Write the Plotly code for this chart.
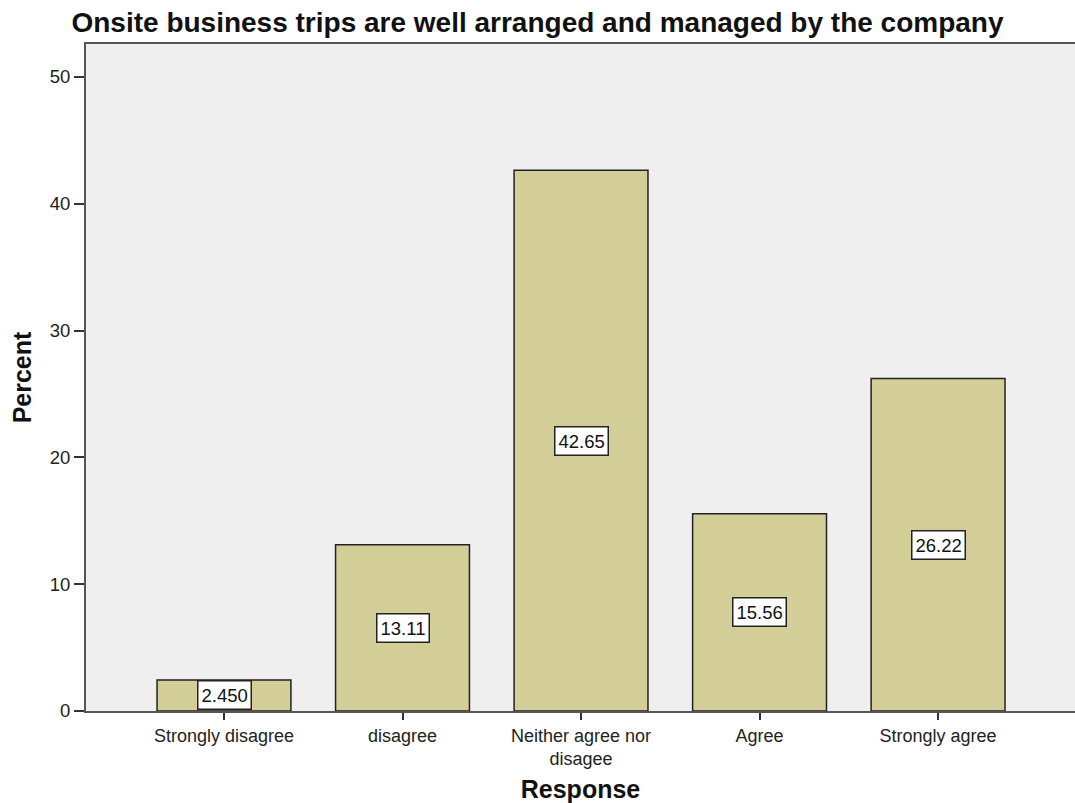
import plotly.graph_objects as go

# Survey responses and their percentages
categories = ["Strongly disagree", "disagree", "Neither agree nor<br>disagee", "Agree", "Strongly agree"]
percents = [2.450, 13.11, 42.65, 15.56, 26.22]
value_labels = ["2.450", "13.11", "42.65", "15.56", "26.22"]
y_ticks = [0, 10, 20, 30, 40, 50]

FONT = "Liberation Sans, Arial, sans-serif"

fig = go.Figure()
fig.add_trace(go.Bar(
    x=categories,
    y=percents,
    width=0.75,
    marker=dict(color="#D3CD97", line=dict(color="#222222", width=1.5)),
    hoverinfo="x+y",
))

# Value boxes placed in the middle of each bar
for cat, val, lab in zip(categories, percents, value_labels):
    fig.add_annotation(
        x=cat, y=val / 2, text=lab, showarrow=False,
        font=dict(family=FONT, size=18.5, color="#111111"),
        bgcolor="white", bordercolor="#222222", borderwidth=1.5, borderpad=3,
    )

fig.update_layout(
    width=1075, height=803,
    margin=dict(l=86, r=0, t=44, b=92),
    paper_bgcolor="white",
    plot_bgcolor="#EFEFEF",
    showlegend=False,
    bargap=0.25,
    title=dict(
        text="<b>Onsite business trips are well arranged and managed by the company</b>",
        x=0.5, xanchor="center", y=0.9726, yanchor="middle",
        font=dict(family=FONT, size=28, color="#111111"),
    ),
    xaxis=dict(
        range=[-0.773, 4.767],
        showline=True, linecolor="#555555", linewidth=2, mirror=True,
        ticks="outside", ticklen=7, tickcolor="#333333", tickwidth=1.5,
        tickfont=dict(family=FONT, size=18, color="#222222"),
        showgrid=False, zeroline=False,
        title=dict(text="<b>Response</b>", font=dict(family=FONT, size=25, color="#111111"), standoff=14),
    ),
    yaxis=dict(
        range=[0, 52.6],
        tickvals=y_ticks,
        showline=True, linecolor="#555555", linewidth=2,
        ticks="outside", ticklen=10, tickcolor="#333333", tickwidth=1.5,
        tickfont=dict(family=FONT, size=18.5, color="#222222"),
        showgrid=False, zeroline=False,
        title=dict(text="<b>Percent</b>", font=dict(family=FONT, size=25, color="#111111"), standoff=11),
    ),
)

fig.write_html("out.html")
